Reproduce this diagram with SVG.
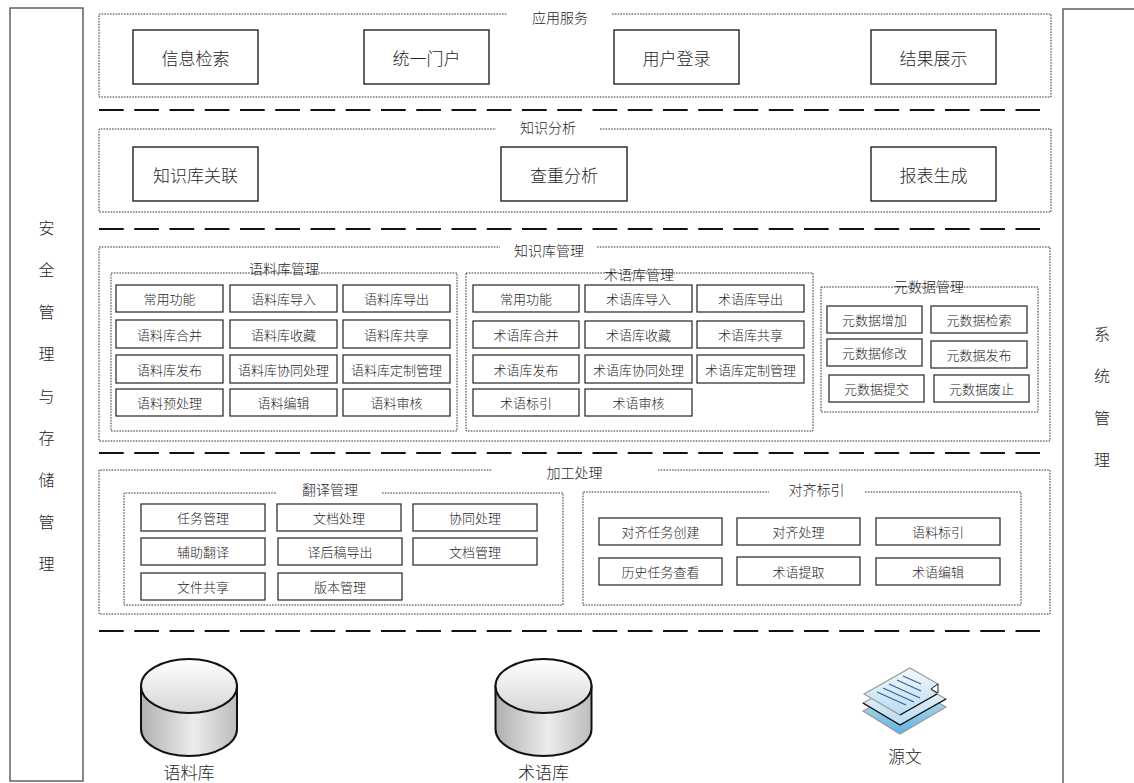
<svg xmlns="http://www.w3.org/2000/svg" width="1134" height="783" viewBox="0 0 1134 783">
  <defs>
    <style>
      text { font-family: "Noto Sans CJK SC", "Noto Sans", sans-serif; font-weight: 300; fill: #262626; text-anchor: middle; dominant-baseline: central; }
      .col { fill: #fff; stroke: #555; stroke-width: 1.4; }
      .panel { fill: none; stroke: #333; stroke-width: 1; stroke-dasharray: 1.6 1.2; }
      .sep { fill: none; stroke: #111; stroke-width: 2; stroke-dasharray: 24.7 10.55; }
      .big { fill: #fff; stroke: #222; stroke-width: 1.4; }
      .item { fill: #fff; stroke: #333; stroke-width: 1.3; }
      .t17 { font-size: 17px; }
      .t16 { font-size: 16px; }
      .t14 { font-size: 14px; }
      .t13 { font-size: 13px; }
      .cylbody { fill: url(#bodyGrad); stroke: #111; stroke-width: 2; }
      .cyltop { fill: url(#topGrad); stroke: #111; stroke-width: 2; }
      .sheet { stroke: #9a9a9a; stroke-width: 1.2; }
      .rule { stroke: #3b5f9a; stroke-width: 1.3; }
    </style>
    <linearGradient id="bodyGrad" x1="0" y1="0" x2="1" y2="0">
      <stop offset="0" stop-color="#b0b0b0"/>
      <stop offset="0.55" stop-color="#ececec"/>
      <stop offset="1" stop-color="#bcbcbc"/>
    </linearGradient>
    <linearGradient id="topGrad" x1="0" y1="0" x2="0" y2="1">
      <stop offset="0" stop-color="#ffffff"/>
      <stop offset="1" stop-color="#d6d6d6"/>
    </linearGradient>
    <linearGradient id="sheetGrad" x1="0" y1="0" x2="0" y2="1">
      <stop offset="0" stop-color="#f4f9fd"/>
      <stop offset="1" stop-color="#b9dcf0"/>
    </linearGradient>
    <linearGradient id="sheetGradDeep" x1="0" y1="0" x2="0" y2="1">
      <stop offset="0" stop-color="#cde6f4"/>
      <stop offset="1" stop-color="#5fb3df"/>
    </linearGradient>
  </defs>

  <!-- side columns -->
  <g id="security-storage">
    <rect class="col" x="10" y="8" width="73" height="773"/>
    <text class="t16" x="46.5" y="227">安</text>
    <text class="t16" x="46.5" y="269">全</text>
    <text class="t16" x="46.5" y="311">管</text>
    <text class="t16" x="46.5" y="353">理</text>
    <text class="t16" x="46.5" y="395">与</text>
    <text class="t16" x="46.5" y="437">存</text>
    <text class="t16" x="46.5" y="479">储</text>
    <text class="t16" x="46.5" y="521">管</text>
    <text class="t16" x="46.5" y="563">理</text>
  </g>
  <g id="system-management">
    <rect class="col" x="1063" y="9" width="80" height="780"/>
    <text class="t16" x="1102" y="333">系</text>
    <text class="t16" x="1102" y="375">统</text>
    <text class="t16" x="1102" y="417">管</text>
    <text class="t16" x="1102" y="459">理</text>
  </g>

  <!-- layer separators -->
  <g id="separators">
    <line class="sep" x1="99" y1="110" x2="1040" y2="110"/>
    <line class="sep" x1="99" y1="229" x2="1040" y2="229"/>
    <line class="sep" x1="99" y1="453" x2="1040" y2="453"/>
    <line class="sep" x1="99" y1="631" x2="1040" y2="631"/>
  </g>

  <!-- application services -->
  <g id="app-services">
    <path class="panel" d="M612,14 H1051 V97 H99 V14 H507"/>
    <text class="t14" x="560" y="17">应用服务</text>
    <rect class="big" x="133" y="30" width="125" height="54"/>
    <text class="t17" x="195.5" y="57">信息检索</text>
    <rect class="big" x="364" y="30" width="125" height="54"/>
    <text class="t17" x="426.5" y="57">统一门户</text>
    <rect class="big" x="614" y="30" width="125" height="54"/>
    <text class="t17" x="676.5" y="57">用户登录</text>
    <rect class="big" x="871" y="30" width="125" height="54"/>
    <text class="t17" x="933.5" y="57">结果展示</text>
  </g>

  <!-- knowledge analysis -->
  <g id="knowledge-analysis">
    <path class="panel" d="M600,129 H1051 V212 H99 V129 H496"/>
    <text class="t14" x="548" y="127">知识分析</text>
    <rect class="big" x="133" y="147" width="125" height="54"/>
    <text class="t17" x="195.5" y="174">知识库关联</text>
    <rect class="big" x="501" y="147" width="126" height="54"/>
    <text class="t17" x="564" y="174">查重分析</text>
    <rect class="big" x="871" y="147" width="125" height="54"/>
    <text class="t17" x="933.5" y="174">报表生成</text>
  </g>

  <!-- knowledge base management -->
  <g id="kb-management">
    <path class="panel" d="M597,247 H1050 V441 H99 V247 H500"/>
    <text class="t14" x="549" y="250">知识库管理</text>
  </g>

  <g id="corpus-management">
    <rect class="panel" x="111" y="273" width="346" height="158"/>
    <text class="t14" x="284" y="268">语料库管理</text>
    <rect class="item" x="116" y="285" width="107" height="27"/><text class="t13" x="169.5" y="298.5">常用功能</text>
    <rect class="item" x="230" y="285" width="107" height="27"/><text class="t13" x="283.5" y="298.5">语料库导入</text>
    <rect class="item" x="343" y="285" width="107" height="27"/><text class="t13" x="396.5" y="298.5">语料库导出</text>
    <rect class="item" x="116" y="320" width="107" height="28"/><text class="t13" x="169.5" y="334">语料库合并</text>
    <rect class="item" x="230" y="320" width="107" height="28"/><text class="t13" x="283.5" y="334">语料库收藏</text>
    <rect class="item" x="343" y="320" width="107" height="28"/><text class="t13" x="396.5" y="334">语料库共享</text>
    <rect class="item" x="116" y="355" width="107" height="28"/><text class="t13" x="169.5" y="369">语料库发布</text>
    <rect class="item" x="230" y="355" width="107" height="28"/><text class="t13" x="283.5" y="369">语料库协同处理</text>
    <rect class="item" x="343" y="355" width="107" height="28"/><text class="t13" x="396.5" y="369">语料库定制管理</text>
    <rect class="item" x="116" y="389" width="107" height="27"/><text class="t13" x="169.5" y="402.5">语料预处理</text>
    <rect class="item" x="230" y="389" width="107" height="27"/><text class="t13" x="283.5" y="402.5">语料编辑</text>
    <rect class="item" x="343" y="389" width="107" height="27"/><text class="t13" x="396.5" y="402.5">语料审核</text>
  </g>

  <g id="term-management">
    <rect class="panel" x="466" y="273" width="347" height="158"/>
    <text class="t14" x="639" y="274">术语库管理</text>
    <rect class="item" x="473" y="285" width="106" height="27"/><text class="t13" x="526" y="298.5">常用功能</text>
    <rect class="item" x="585" y="285" width="107" height="27"/><text class="t13" x="638.5" y="298.5">术语库导入</text>
    <rect class="item" x="697" y="285" width="107" height="27"/><text class="t13" x="750.5" y="298.5">术语库导出</text>
    <rect class="item" x="473" y="321" width="106" height="27"/><text class="t13" x="526" y="334.5">术语库合并</text>
    <rect class="item" x="585" y="321" width="107" height="27"/><text class="t13" x="638.5" y="334.5">术语库收藏</text>
    <rect class="item" x="697" y="321" width="107" height="27"/><text class="t13" x="750.5" y="334.5">术语库共享</text>
    <rect class="item" x="473" y="355" width="106" height="28"/><text class="t13" x="526" y="369">术语库发布</text>
    <rect class="item" x="585" y="355" width="107" height="28"/><text class="t13" x="638.5" y="369">术语库协同处理</text>
    <rect class="item" x="697" y="355" width="107" height="28"/><text class="t13" x="750.5" y="369">术语库定制管理</text>
    <rect class="item" x="473" y="389" width="106" height="27"/><text class="t13" x="526" y="402.5">术语标引</text>
    <rect class="item" x="585" y="389" width="107" height="27"/><text class="t13" x="638.5" y="402.5">术语审核</text>
  </g>

  <g id="metadata-management">
    <rect class="panel" x="821" y="287" width="217" height="125"/>
    <text class="t14" x="929" y="286">元数据管理</text>
    <rect class="item" x="827" y="306" width="95" height="27"/><text class="t13" x="874.5" y="319.5">元数据增加</text>
    <rect class="item" x="931" y="306" width="96" height="27"/><text class="t13" x="979" y="319.5">元数据检索</text>
    <rect class="item" x="827" y="339" width="95" height="27"/><text class="t13" x="874.5" y="352.5">元数据修改</text>
    <rect class="item" x="931" y="341" width="96" height="27"/><text class="t13" x="979" y="354.5">元数据发布</text>
    <rect class="item" x="829" y="375" width="95" height="27"/><text class="t13" x="876.5" y="388.5">元数据提交</text>
    <rect class="item" x="934" y="375" width="95" height="27"/><text class="t13" x="981.5" y="388.5">元数据废止</text>
  </g>

  <!-- processing layer -->
  <g id="processing">
    <path class="panel" d="M658,470 H1050 V614 H99 V470 H492"/>
    <text class="t14" x="574.5" y="472">加工处理</text>
  </g>

  <g id="translation-management">
    <path class="panel" d="M382,493 H563 V605 H124 V493 H277"/>
    <text class="t14" x="330" y="489">翻译管理</text>
    <rect class="item" x="141" y="504" width="124" height="27"/><text class="t13" x="203" y="517.5">任务管理</text>
    <rect class="item" x="277" y="504" width="124" height="27"/><text class="t13" x="339" y="517.5">文档处理</text>
    <rect class="item" x="413" y="504" width="124" height="27"/><text class="t13" x="475" y="517.5">协同处理</text>
    <rect class="item" x="141" y="538" width="124" height="27"/><text class="t13" x="203" y="551.5">辅助翻译</text>
    <rect class="item" x="278" y="538" width="124" height="27"/><text class="t13" x="340" y="551.5">译后稿导出</text>
    <rect class="item" x="413" y="538" width="124" height="27"/><text class="t13" x="475" y="551.5">文档管理</text>
    <rect class="item" x="141" y="573" width="124" height="27"/><text class="t13" x="203" y="586.5">文件共享</text>
    <rect class="item" x="278" y="573" width="124" height="27"/><text class="t13" x="340" y="586.5">版本管理</text>
  </g>

  <g id="alignment-indexing">
    <path class="panel" d="M865,492 H1021 V605 H583 V492 H769"/>
    <text class="t14" x="816.5" y="489">对齐标引</text>
    <rect class="item" x="599" y="518" width="123" height="27"/><text class="t13" x="660.5" y="531.5">对齐任务创建</text>
    <rect class="item" x="737" y="518" width="123" height="27"/><text class="t13" x="798.5" y="531.5">对齐处理</text>
    <rect class="item" x="876" y="518" width="124" height="27"/><text class="t13" x="938" y="531.5">语料标引</text>
    <rect class="item" x="599" y="558" width="123" height="27"/><text class="t13" x="660.5" y="571.5">历史任务查看</text>
    <rect class="item" x="737" y="557" width="123" height="28"/><text class="t13" x="798.5" y="571">术语提取</text>
    <rect class="item" x="876" y="558" width="124" height="27"/><text class="t13" x="938" y="571.5">术语编辑</text>
  </g>

  <!-- data stores -->
  <g id="corpus-db">
    <path class="cylbody" d="M141,686 V729 A48,27 0 0 0 237,729 V686 Z"/>
    <ellipse class="cyltop" cx="189" cy="686" rx="48" ry="27"/>
    <text class="t17" x="189" y="771">语料库</text>
  </g>
  <g id="term-db">
    <path class="cylbody" d="M495.5,686 V729 A48,27 0 0 0 591.5,729 V686 Z"/>
    <ellipse class="cyltop" cx="543.5" cy="686" rx="48" ry="27"/>
    <text class="t17" x="543.5" y="771">术语库</text>
  </g>

  <!-- source document stack -->
  <g id="source-doc">
    <polygon class="sheet" fill="url(#sheetGradDeep)" points="863,711 909,686 946,707 900,734"/>
    <polygon class="sheet" fill="url(#sheetGrad)" points="863,703 909,678 946,699 900,725"/>
    <polyline points="863,703 900,725 946,699" fill="none" stroke="#111" stroke-width="1.3"/>
    <path class="sheet" fill="url(#sheetGrad)" d="M864,694 L910,668 L938,684 L931,689 L937,694 L900,715 Z"/>
    <polyline points="900,715 937,694" fill="none" stroke="#111" stroke-width="1.2"/>
    <path d="M931,689 L938,684 L938,693 Z" fill="#fff" stroke="#222" stroke-width="1"/>
    <line class="rule" x1="903" y1="676" x2="921" y2="684"/>
    <line class="rule" x1="897" y1="680" x2="921" y2="691"/>
    <line class="rule" x1="889" y1="684" x2="920" y2="698"/>
    <line class="rule" x1="883" y1="688" x2="914" y2="702"/>
    <line class="rule" x1="877" y1="692" x2="906" y2="705"/>
    <text class="t17" x="905" y="755">源文</text>
  </g>
</svg>
